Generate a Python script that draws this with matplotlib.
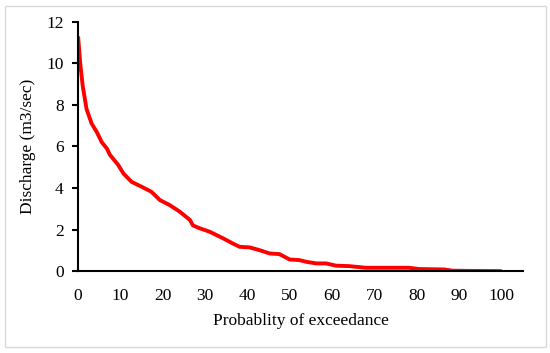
import matplotlib
matplotlib.use('Agg')
from matplotlib import pyplot as plt
from matplotlib.patches import Rectangle

# flow duration curve
exceed = [0, 0.5, 1.1, 2.0, 3.2, 4.4, 5.6, 6.8, 7.5, 9.5, 10.7, 12.6, 15.0, 17.3,
          19.3, 21.6, 24.0, 26.4, 27.1, 28.7, 31.0, 34.2, 36.5, 38.1, 40.5, 42.8,
          45.2, 47.5, 49.9, 52.2, 53.8, 56.2, 58.5, 60.9, 64.0, 67.9, 71.8, 78.1,
          80.5, 86.4, 88.3, 92.0, 100.0]
discharge = [11.3, 10.0, 8.9, 7.8, 7.1, 6.7, 6.2, 5.9, 5.6, 5.1, 4.7, 4.3, 4.06, 3.82,
             3.42, 3.18, 2.86, 2.46, 2.2, 2.06, 1.9, 1.58, 1.33, 1.17, 1.14, 1.01,
             0.85, 0.82, 0.56, 0.53, 0.45, 0.37, 0.37, 0.26, 0.24, 0.16, 0.16, 0.16,
             0.1, 0.08, 0.02, 0.01, 0.0]

plt.rcParams['font.family'] = 'Liberation Serif'

fig = plt.figure(figsize=(5.5, 3.53), dpi=100)
ax = fig.add_axes([0.142, 0.232, 0.809, 0.706])

ax.plot(exceed, discharge, color='#ff0000', lw=2.8, solid_capstyle='butt')

ax.set_xlim(0, 105)
ax.set_ylim(0, 12)
ax.set_xticks(range(0, 101, 10))
ax.set_yticks(range(0, 13, 2))
ax.spines['top'].set_visible(False)
ax.spines['right'].set_visible(False)
ax.spines['left'].set_linewidth(1.5)
ax.spines['bottom'].set_linewidth(1.5)
ax.tick_params(axis='x', length=0, pad=12, labelsize=12.5)
ax.tick_params(axis='y', length=4.5, width=1.5, pad=6, labelsize=12.5)
ax.set_xlabel('Probablity of exceedance', fontsize=12.5, labelpad=7)
ax.set_ylabel('Discharge (m3/sec)', fontsize=12.5, labelpad=7)

fig.patches.append(Rectangle((5/550, 6/353), 541/550, 341/353, transform=fig.transFigure,
                             fill=False, edgecolor='#d9d9d9', lw=1))

plt.savefig('out.png', dpi=100)
